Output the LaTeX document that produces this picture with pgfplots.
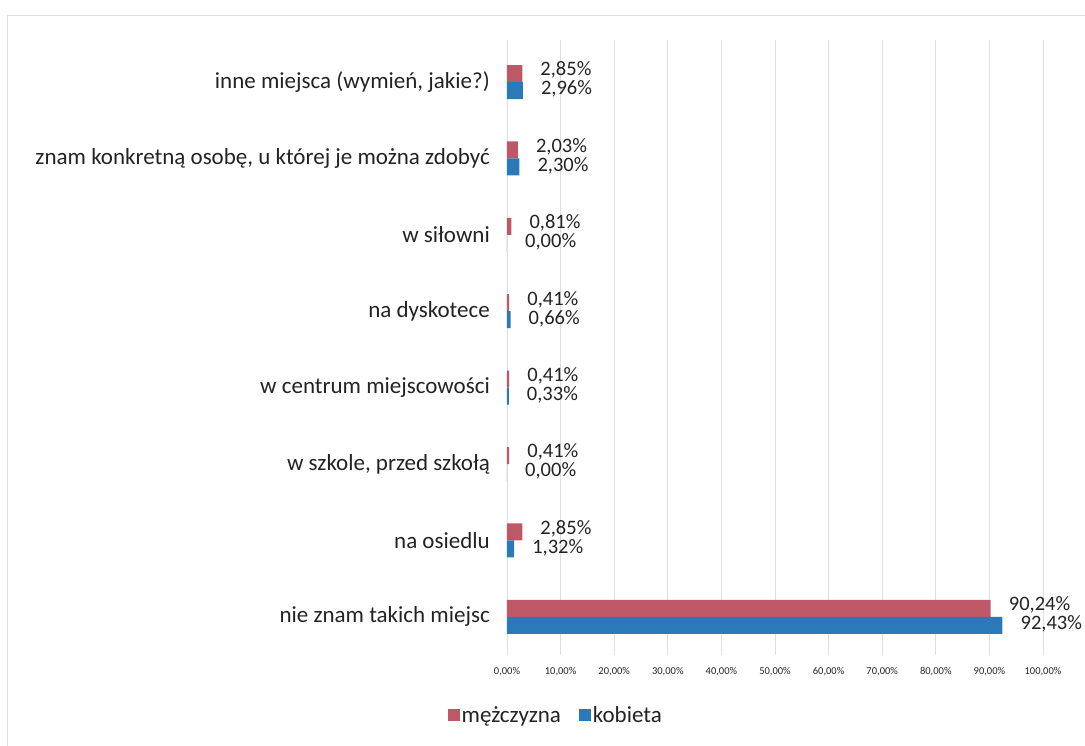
\documentclass[border=0pt]{standalone}
\usepackage{pgfplots}
\usepackage{pgfplotstable}
\pgfplotsset{compat=1.18}
\usepackage{fontspec}
\setmainfont{Carlito}

\definecolor{men}{RGB}{190,88,102}
\definecolor{women}{RGB}{42,122,186}
\definecolor{txt}{RGB}{35,35,35}

% y: 0 = bottom category
\pgfplotstableread{
y m k
0 90.24 92.43
1 2.85 1.32
2 0.41 0.00
3 0.41 0.33
4 0.41 0.66
5 0.81 0.00
6 2.03 2.30
7 2.85 2.96
}\data

\begin{document}
\begin{tikzpicture}[x=1pt,y=1pt]
\useasboundingbox (0,-745) rectangle (1085,0);
\draw[black!13, line width=0.8pt] (7,-800) -- (7,-15) -- (1200,-15);

\begin{axis}[
  at={(507pt,-655pt)}, anchor=south west,
  scale only axis, width=536pt, height=615pt,
  clip=false,
  xbar, bar width=17pt,
  xmin=0, xmax=100, ymin=-0.5, ymax=7.55,
  xtick={0,10,...,100},
  ytick={0,...,7},
  yticklabels={nie znam takich miejsc, na osiedlu, {w szkole, przed szkołą}, w centrum miejscowości, na dyskotece, w siłowni, {znam konkretną osobę, u której je można zdobyć}, {inne miejsca (wymień, jakie?)}},
  /pgf/number format/assume math mode=true,
  xticklabel={\pgfmathprintnumber[fixed,fixed zerofill,precision=2,use comma]{\tick}\%},
  xticklabel style={font=\fontsize{10.5}{10.5}\selectfont, text=txt, inner sep=0pt, yshift=-12pt},
  yticklabel style={font=\fontsize{23}{23}\selectfont, text=txt, inner sep=0pt, anchor=east, xshift=-17pt},
  xmajorgrids, grid style={black!13, line width=0.8pt},
  axis line style={draw=none}, major tick length=0pt,
  point meta=x,
  nodes near coords={\pgfmathprintnumber[fixed,fixed zerofill,precision=2,use comma]{\pgfplotspointmeta}\%},
  nodes near coords style={font=\fontsize{20.5}{20.5}\selectfont, text=txt, anchor=west,
    inner sep=0pt, text height=0.66em, text depth=0pt, xshift=18pt},
  legend style={at={(axis description cs:0.091,-0.098)}, anchor=center, draw=none, fill=none,
    legend columns=-1, font=\fontsize{23}{23}\selectfont, text=txt,
    /tikz/every even column/.append style={column sep=16pt}},
  legend image code/.code={\fill[#1] (0pt,-6pt) rectangle (12pt,6pt);},
]
\addplot[fill=men, draw=none, bar shift=8.5pt,
  every node near coord/.append style={yshift=1pt}] table[x=m,y=y]{\data};
\addplot[fill=women, draw=none, bar shift=-8.5pt,
  every node near coord/.append style={yshift=-1pt}] table[x=k,y=y]{\data};
\legend{mężczyzna, kobieta}
\end{axis}
\end{tikzpicture}
\end{document}
